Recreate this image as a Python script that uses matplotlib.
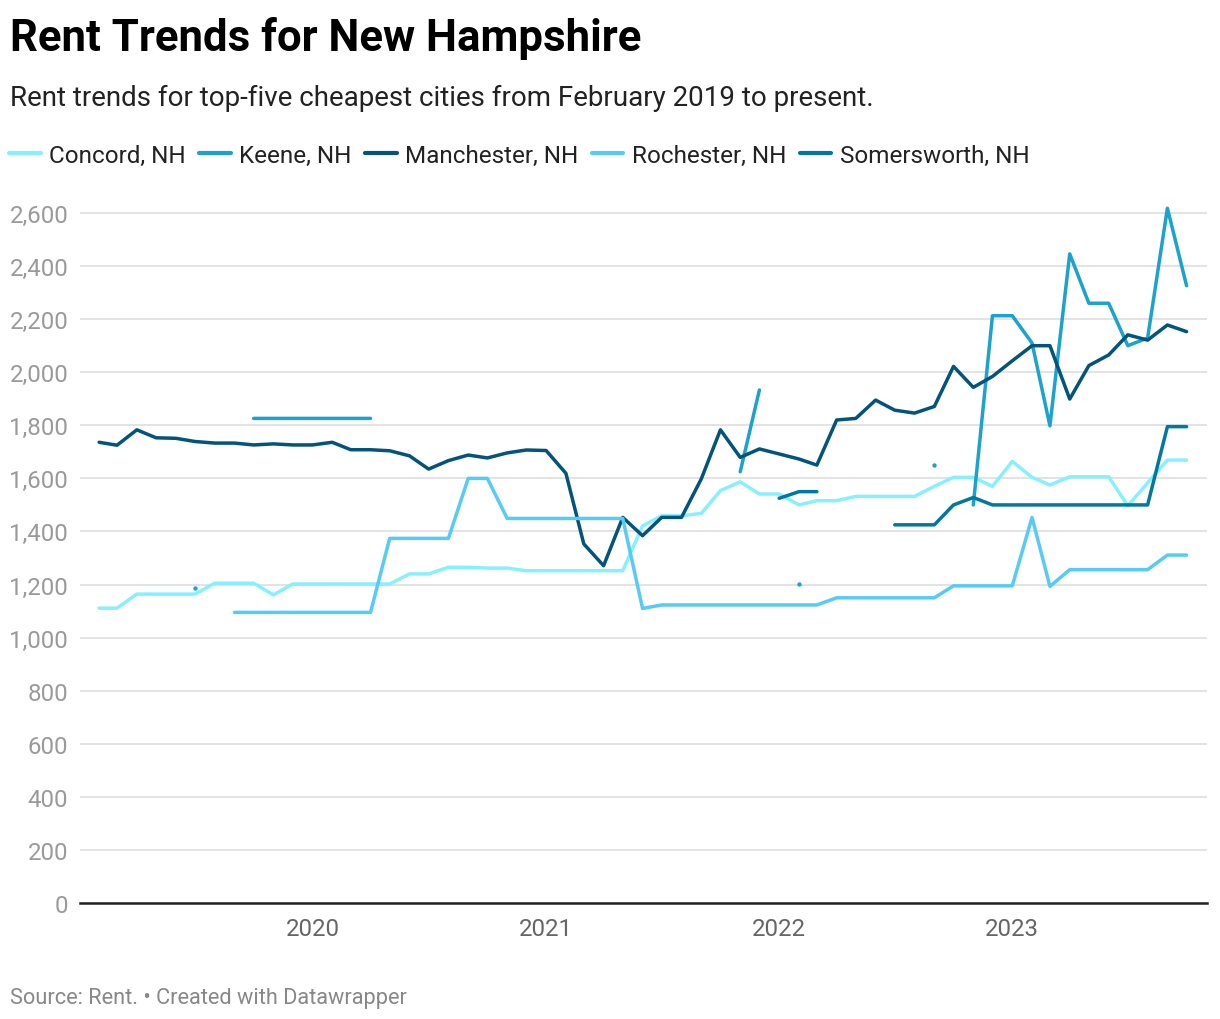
import numpy as np
import pandas as pd
import matplotlib
matplotlib.use("Agg")
import matplotlib.pyplot as plt
import matplotlib.dates as mdates
from matplotlib.ticker import FuncFormatter

plt.rcParams["font.family"] = ["Roboto", "DejaVu Sans"]

# -----------------------------
# data (monthly, Feb 2019 .. Oct 2023)
# -----------------------------
nan = np.nan
months = pd.date_range("2019-02-01", periods=57, freq="MS")

concord = [1111, 1111, 1164, 1164, 1164, 1164, 1205, 1205, 1205, 1161,
           1202, 1202, 1202, 1202, 1202, 1202, 1240, 1240, 1265, 1265,
           1262, 1262, 1252, 1252, 1252, 1252, 1252, 1252, 1421, 1459,
           1459, 1468, 1554, 1587, 1541, 1541, 1500, 1516, 1516, 1532,
           1532, 1532, 1532, 1570, 1604, 1604, 1570, 1664, 1604, 1575,
           1606, 1606, 1606, 1497, 1583, 1669, 1669]

keene = [nan, nan, nan, nan, nan, 1187, nan, nan, 1826, 1826,
         1826, 1826, 1826, 1826, 1826, nan, nan, nan, nan, nan,
         nan, nan, nan, nan, nan, nan, nan, nan, nan, nan,
         nan, nan, nan, 1625, 1933, nan, 1202, nan, nan, nan,
         nan, nan, nan, 1651, nan, 1500, 2213, 2213, 2110, 1798,
         2446, 2260, 2260, 2100, 2129, 2618, 2326]

manchester = [1736, 1725, 1783, 1753, 1751, 1739, 1733, 1733, 1726, 1730,
              1726, 1726, 1736, 1708, 1708, 1704, 1685, 1635, 1667, 1688,
              1677, 1696, 1707, 1705, 1619, 1353, 1271, 1453, 1384, 1453,
              1453, 1598, 1783, 1679, 1711, 1692, 1673, 1650, 1820, 1826,
              1895, 1857, 1846, 1871, 2022, 1943, 1984, 2043, 2100, 2100,
              1899, 2025, 2065, 2141, 2121, 2178, 2153]

rochester = [nan, nan, nan, nan, nan, nan, nan, 1095, 1095, 1095,
             1095, 1095, 1095, 1095, 1095, 1374, 1374, 1374, 1374, 1600,
             1600, 1449, 1449, 1449, 1449, 1449, 1449, 1449, 1110, 1123,
             1123, 1123, 1123, 1123, 1123, 1123, 1123, 1123, 1150, 1150,
             1150, 1150, 1150, 1150, 1195, 1195, 1195, 1195, 1453, 1193,
             1256, 1256, 1256, 1256, 1256, 1311, 1311]

somersworth = [nan] * 35 + [1525, 1550, 1550, nan, nan, nan, 1425, 1425, 1425,
                            1500, 1528, 1500, 1500, 1500, 1500, 1500, 1500,
                            1500, 1500, 1500, 1795, 1795]

series = [
    ("Concord, NH", concord, "#86f0ff"),
    ("Keene, NH", keene, "#1ba2cd"),
    ("Manchester, NH", manchester, "#02547a"),
    ("Rochester, NH", rochester, "#55cbf5"),
    ("Somersworth, NH", somersworth, "#00789f"),
]

# -----------------------------
# figure
# -----------------------------
W, H = 1220, 1020
fig = plt.figure(figsize=(W / 100, H / 100), dpi=100)

ax_left, ax_right = 80, 1207
y0_px, y2600_px = 904, 214
ymax = 2680
top_px = y0_px - (y0_px - y2600_px) / 2600 * ymax
ax = fig.add_axes([ax_left / W, 1 - y0_px / H, (ax_right - ax_left) / W, (y0_px - top_px) / H])

for name, vals, col in series:
    v = np.array(vals, dtype=float)
    ax.plot(months, v, color=col, lw=2.5, label=name, solid_capstyle="round",
            solid_joinstyle="round", zorder=3)
    # isolated points get a small dot
    prev = np.r_[nan, v[:-1]]
    nxt = np.r_[v[1:], nan]
    iso = ~np.isnan(v) & np.isnan(prev) & np.isnan(nxt)
    ax.scatter(months[iso], v[iso], s=10, color=col, zorder=3, linewidths=0)

ax.set_xlim(pd.Timestamp("2019-01-02"), pd.Timestamp("2023-11-02"))
ax.set_ylim(0, ymax)
ax.set_yticks(range(0, 2601, 200))
ax.yaxis.set_major_formatter(FuncFormatter(lambda v, p: f"{int(v):,}"))
ax.xaxis.set_major_locator(mdates.YearLocator(1, month=1, day=1))
ax.xaxis.set_major_formatter(mdates.DateFormatter("%Y"))

ax.grid(axis="y", color="#e3e3e3", lw=1.4, zorder=0)
ax.grid(axis="x", visible=False)
for s in ["top", "right", "left"]:
    ax.spines[s].set_visible(False)
ax.spines["bottom"].set_color("#222222")
ax.spines["bottom"].set_linewidth(1.8)
ax.spines["bottom"].set_zorder(4)
ax.tick_params(axis="y", length=0, pad=8.5, labelsize=17.3, labelcolor="#9a9a9a")
ax.tick_params(axis="x", length=0, pad=10, labelsize=17.3, labelcolor="#666666")
ax.set_facecolor("none")

# -----------------------------
# texts
# -----------------------------
fig.text(10 / W, 1 - 51 / H, "Rent Trends for New Hampshire", fontsize=31.5,
         fontweight="bold", color="#000000", va="baseline", ha="left")
fig.text(10 / W, 1 - 106 / H,
         "Rent trends for top-five cheapest cities from February 2019 to present.",
         fontsize=20, color="#222222", va="baseline", ha="left")
fig.text(10 / W, 1 - 1004 / H, "Source: Rent. \u2022 Created with Datawrapper",
         fontsize=15.7, color="#888888", va="baseline", ha="left")

handles, labels = ax.get_legend_handles_labels()
leg = fig.legend(handles, labels, loc="center left", bbox_to_anchor=(9 / W, 1 - 156 / H),
                 ncol=5, frameon=False, fontsize=17.5, handlelength=1.3,
                 handletextpad=0.35, columnspacing=0.55, borderaxespad=0, borderpad=0)
for t in leg.get_texts():
    t.set_color("#222222")
for l in leg.get_lines():
    l.set_linewidth(3)

fig.savefig("out.png", dpi=100)
